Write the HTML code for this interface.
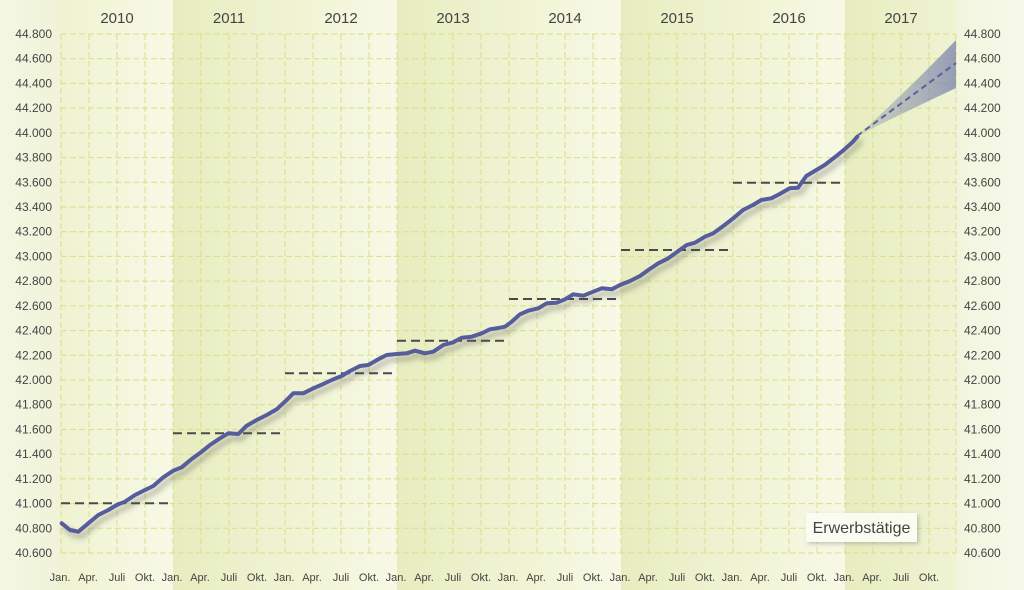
<!DOCTYPE html>
<html><head><meta charset="utf-8"><style>
html,body{margin:0;padding:0;background:#f4f6e2;}
svg{display:block;}
text{font-family:"Liberation Sans",sans-serif;fill:#444;}
</style></head><body>
<svg width="1024" height="590" viewBox="0 0 1024 590" xmlns="http://www.w3.org/2000/svg">
<defs>
<linearGradient id="bgL" x1="0" x2="1" y1="0" y2="0"><stop offset="0" stop-color="#f4f7e3"/><stop offset="1" stop-color="#f0f3d8"/></linearGradient>
<linearGradient id="bgR" x1="0" x2="1" y1="0" y2="0"><stop offset="0" stop-color="#f2f5dd"/><stop offset="1" stop-color="#f7f9ea"/></linearGradient>
<linearGradient id="lb" x1="0" x2="1" y1="0" y2="0"><stop offset="0" stop-color="#eff3d0"/><stop offset="1" stop-color="#f7f9e6"/></linearGradient>
<linearGradient id="db" x1="0" x2="1" y1="0" y2="0"><stop offset="0" stop-color="#e7edbe"/><stop offset="1" stop-color="#eff3d3"/></linearGradient>
<linearGradient id="fan" x1="0" x2="1" y1="0" y2="0"><stop offset="0" stop-color="#7078a8" stop-opacity="0.2"/><stop offset="1" stop-color="#7078a8" stop-opacity="0.7"/></linearGradient>
<filter id="sh" x="-5%" y="-5%" width="110%" height="120%"><feDropShadow dx="3" dy="5" stdDeviation="3" flood-color="#555" flood-opacity="0.45"/></filter>
<filter id="bsh" x="-10%" y="-20%" width="130%" height="160%"><feDropShadow dx="2" dy="2" stdDeviation="2" flood-color="#777" flood-opacity="0.4"/></filter>
</defs>
<rect x="0" y="0" width="61" height="590" fill="url(#bgL)"/>
<rect x="956" y="0" width="68" height="590" fill="url(#bgR)"/>
<rect x="61" y="0" width="112" height="590" fill="url(#lb)"/>
<rect x="173" y="0" width="112" height="590" fill="url(#db)"/>
<rect x="285" y="0" width="112" height="590" fill="url(#lb)"/>
<rect x="397" y="0" width="112" height="590" fill="url(#db)"/>
<rect x="509" y="0" width="112" height="590" fill="url(#lb)"/>
<rect x="621" y="0" width="112" height="590" fill="url(#db)"/>
<rect x="733" y="0" width="112" height="590" fill="url(#lb)"/>
<rect x="845" y="0" width="111" height="590" fill="url(#db)"/>

<g stroke="#d8df8e" stroke-width="1" stroke-dasharray="6 3" fill="none">
<path d="M61 34H956M61 58.7H956M61 83.4H956M61 108.1H956M61 132.9H956M61 157.6H956M61 182.3H956M61 207H956M61 231.7H956M61 256.4H956M61 281.1H956M61 305.9H956M61 330.6H956M61 355.3H956M61 380H956M61 404.7H956M61 429.4H956M61 454.1H956M61 478.9H956M61 503.6H956M61 528.3H956M61 553H956"/>
<path d="M61 34V553M89 34V553M117 34V553M145 34V553M173 34V553M201 34V553M229 34V553M257 34V553M285 34V553M313 34V553M341 34V553M369 34V553M397 34V553M425 34V553M453 34V553M481 34V553M509 34V553M537 34V553M565 34V553M593 34V553M621 34V553M649 34V553M677 34V553M705 34V553M733 34V553M761 34V553M789 34V553M817 34V553M845 34V553M873 34V553M901 34V553M929 34V553M956 34V553"/>
</g>

<g font-size="15" text-anchor="middle">
<text x="117" y="23">2010</text><text x="229" y="23">2011</text><text x="341" y="23">2012</text><text x="453" y="23">2013</text><text x="565" y="23">2014</text><text x="677" y="23">2015</text><text x="789" y="23">2016</text><text x="901" y="23">2017</text>
</g>

<g font-size="12" text-anchor="end">
<text x="52" y="38">44.800</text><text x="52" y="62.7">44.600</text><text x="52" y="87.4">44.400</text><text x="52" y="112.1">44.200</text><text x="52" y="136.9">44.000</text><text x="52" y="161.6">43.800</text><text x="52" y="186.3">43.600</text><text x="52" y="211">43.400</text><text x="52" y="235.7">43.200</text><text x="52" y="260.4">43.000</text><text x="52" y="285.1">42.800</text><text x="52" y="309.9">42.600</text><text x="52" y="334.6">42.400</text><text x="52" y="359.3">42.200</text><text x="52" y="384">42.000</text><text x="52" y="408.7">41.800</text><text x="52" y="433.4">41.600</text><text x="52" y="458.1">41.400</text><text x="52" y="482.9">41.200</text><text x="52" y="507.6">41.000</text><text x="52" y="532.3">40.800</text><text x="52" y="557">40.600</text>
</g>
<g font-size="12" text-anchor="start">
<text x="964" y="38">44.800</text><text x="964" y="62.7">44.600</text><text x="964" y="87.4">44.400</text><text x="964" y="112.1">44.200</text><text x="964" y="136.9">44.000</text><text x="964" y="161.6">43.800</text><text x="964" y="186.3">43.600</text><text x="964" y="211">43.400</text><text x="964" y="235.7">43.200</text><text x="964" y="260.4">43.000</text><text x="964" y="285.1">42.800</text><text x="964" y="309.9">42.600</text><text x="964" y="334.6">42.400</text><text x="964" y="359.3">42.200</text><text x="964" y="384">42.000</text><text x="964" y="408.7">41.800</text><text x="964" y="433.4">41.600</text><text x="964" y="458.1">41.400</text><text x="964" y="482.9">41.200</text><text x="964" y="507.6">41.000</text><text x="964" y="532.3">40.800</text><text x="964" y="557">40.600</text>
</g>

<g font-size="11" text-anchor="middle">
<text x="60" y="581">Jan.</text><text x="88" y="581">Apr.</text><text x="117" y="581">Juli</text><text x="145" y="581">Okt.</text>
<text x="172" y="581">Jan.</text><text x="200" y="581">Apr.</text><text x="229" y="581">Juli</text><text x="257" y="581">Okt.</text>
<text x="284" y="581">Jan.</text><text x="312" y="581">Apr.</text><text x="341" y="581">Juli</text><text x="369" y="581">Okt.</text>
<text x="396" y="581">Jan.</text><text x="424" y="581">Apr.</text><text x="453" y="581">Juli</text><text x="481" y="581">Okt.</text>
<text x="508" y="581">Jan.</text><text x="536" y="581">Apr.</text><text x="565" y="581">Juli</text><text x="593" y="581">Okt.</text>
<text x="620" y="581">Jan.</text><text x="648" y="581">Apr.</text><text x="677" y="581">Juli</text><text x="705" y="581">Okt.</text>
<text x="732" y="581">Jan.</text><text x="760" y="581">Apr.</text><text x="789" y="581">Juli</text><text x="817" y="581">Okt.</text>
<text x="844" y="581">Jan.</text><text x="872" y="581">Apr.</text><text x="901" y="581">Juli</text><text x="929" y="581">Okt.</text>
</g>

<g stroke="#4a4a48" stroke-width="2" stroke-dasharray="9 5" fill="none">
<path d="M61 503.3H173"/><path d="M173 433.3H285"/><path d="M285 373.3H397"/><path d="M397 340.7H509"/><path d="M509 299H621"/><path d="M621 250H733"/><path d="M733 182.7H845"/>
</g>

<path d="M857 136 Q910 88 956 40 L956 88 Q905 112 857 136 Z" fill="url(#fan)"/>
<path d="M857 136 L956 63" stroke="#5a61a0" stroke-width="2" stroke-dasharray="6 4" fill="none"/>

<polyline filter="url(#sh)" fill="none" stroke="#565b9c" stroke-width="4" stroke-linejoin="round" stroke-linecap="round" points="61.7,523.3 70,530 78.3,531.7 88.3,523.3 98.3,515 108.3,510 116.7,505 125,501.7 135,495 145,490 153.3,486 163.3,477.3 173.3,470.7 181.7,467.3 191.7,459 201.7,451.7 210,445 220,438.3 228.3,433.3 238.3,434 246.7,425.7 256.7,420 266.7,415 276.7,409.3 286.7,400 293.3,393.3 303.3,393.3 313.3,388.3 323.3,384 331.7,380 341.7,376 350,371 360,366 368.3,365 378.3,359.3 386.7,355 396.7,354 406.7,353.3 415,350.7 425,353.3 433.3,351.7 443.3,345 453.3,342.3 461.7,337.7 471.7,336.7 481.7,333.3 490,329.3 500,327.7 505,326.7 511.7,321.7 520,314.3 528.3,310.7 538.3,308.3 546.7,303.3 556.7,302.7 565,299.3 573.3,294.3 583.3,295.7 591.7,292.3 601.7,288.3 611.7,289.3 620,285 630,281 640,276 648.3,270 658.3,263.3 668.3,258.3 676.7,252.3 686.7,245 695,242.7 705,236.7 713.3,233.3 723.3,226 733.3,218.3 743,210 753,205 761.3,200 771.3,198.3 779.7,194 789.7,188.3 798,187.7 806.3,176 816.3,170 824.7,165 834.7,157.3 843,150.7 853,141.7 857.3,136.7"/>

<rect x="806" y="513" width="111" height="29" fill="#fbfcf1" filter="url(#bsh)"/>
<text x="861.5" y="533" font-size="16" text-anchor="middle" fill="#333">Erwerbstätige</text>
</svg>
</body></html>
